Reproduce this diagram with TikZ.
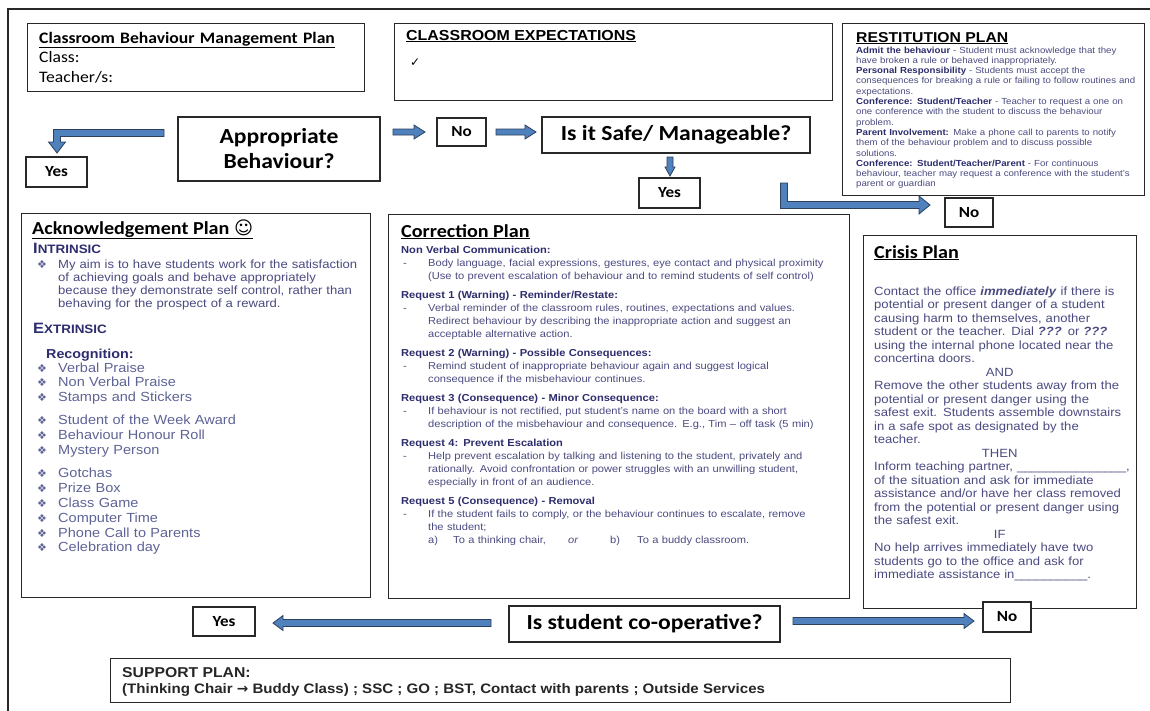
\documentclass[tikz,border=0pt]{standalone}
\usepackage{fontspec}
\setmainfont{Liberation Sans}[FakeStretch=1.1]
\newfontfamily\calfont{Carlito}[FakeStretch=1.1]
\newfontfamily\symfont{DejaVu Sans}
\usetikzlibrary{calc,positioning}

\definecolor{arrowblue}{RGB}{79,129,189}
\definecolor{arrowline}{RGB}{45,65,95}
\definecolor{navyb}{RGB}{45,45,110}
\definecolor{navyr}{RGB}{75,75,130}
\definecolor{listc}{RGB}{95,100,150}
\definecolor{boxline}{RGB}{40,40,40}

\newcommand{\fs}[2]{\fontsize{#1}{#2}\selectfont}
\newcommand{\hl}[1]{\textcolor{navyb}{\textbf{#1}}}
\newcommand{\dd}{\makebox[27pt][l]{\hspace{2pt}-}}
\newcommand{\ind}{\hspace*{27pt}}
\newcommand{\bul}{\makebox[21pt][l]{\symfont\fs{11}{12}❖}}
% block arrow: from, to, half shaft, half head, head length
\newcommand{\blockarrow}[5]{%
  \path ($(#2)!#5!(#1)$) coordinate (hb);
  \filldraw[blockarrow] ($(#1)!#3!90:(#2)$) -- ($(hb)!#3!90:(#2)$) -- ($(hb)!#4!90:(#2)$) -- (#2)
    -- ($(hb)!#4!-90:(#2)$) -- ($(hb)!#3!-90:(#2)$) -- ($(#1)!#3!-90:(#2)$) -- cycle;}

\tikzset{
  panel/.style={draw=boxline, line width=1.3pt, fill=white, rectangle, inner sep=0pt, anchor=north west},
  answer/.style={panel, anchor=center, font=\calfont\bfseries\fs{15.5}{17}},
  question/.style={panel, anchor=center, align=center, font=\calfont\bfseries\fs{21.5}{25}},
  txt/.style={inner sep=0pt, anchor=base west, align=left},
  blockarrow/.style={fill=arrowblue, draw=arrowline, line width=0.8pt, line join=miter},
  frame/.style={draw=boxline, line width=1.5pt},
}

\begin{document}
\begin{tikzpicture}[x=1pt,y=-1pt]
\useasboundingbox (0,0) rectangle (1150,710);
\fill[white] (0,0) rectangle (1150,710);
\clip (0,0) rectangle (1150,710);
\draw[frame] (8,9) rectangle (1170,730);

% top row
\node[panel, minimum width=337pt, minimum height=68pt] (title) at (27,23) {};
\node[txt, text width=330pt, font=\calfont\fs{16}{19.5}] (titletxt) at (39,43) {\textbf{\underline{Classroom Behaviour Management Plan}}\\ Class:\\ Teacher/s:};

\node[panel, minimum width=438pt, minimum height=77pt] (expect) at (394,23) {};
\node[txt] (exptitle) at (406,40) {\fs{14.5}{16}\bfseries\underline{CLASSROOM EXPECTATIONS}};
\node[txt] (tick) at (410,66) {\symfont\fs{12}{13}✓};

\node[panel, minimum width=302pt, minimum height=172pt] (restit) at (842,23) {};
\node[txt] (restitle) at (856,42) {\fs{14.3}{16}\bfseries\underline{RESTITUTION PLAN}};
\node[txt, text width=330pt, font=\fs{8.8}{10.3}, text=navyr] (restxt) at (856,53) {\hl{Admit the behaviour} - Student must acknowledge that they\\
have broken a rule or behaved inappropriately.\\
\hl{Personal Responsibility} - Students must accept the\\
consequences for breaking a rule or failing to follow routines and\\
expectations.\\
\hl{Conference: Student/Teacher} - Teacher to request a one on\\
one conference with the student to discuss the behaviour\\
problem.\\
\hl{Parent Involvement:} Make a phone call to parents to notify\\
them of the behaviour problem and to discuss possible\\
solutions.\\
\hl{Conference: Student/Teacher/Parent} - For continuous\\
behaviour, teacher may request a conference with the student's\\
parent or guardian};

% decision row
\node[question, minimum width=202pt, minimum height=64pt] (appr) at (279,149) {Appropriate\\ Behaviour?};
\node[answer, minimum width=49pt, minimum height=28pt] (no1) at (461.5,132) {No};
\node[question, minimum width=268pt, minimum height=36pt] (safe) at (676,135) {Is it Safe/ Manageable?};
\node[answer, minimum width=61pt, minimum height=30pt] (yes2) at (669.5,193) {Yes};
\node[answer, minimum width=61pt, minimum height=30pt] (yes1) at (56.5,172) {Yes};
\node[answer, minimum width=48pt, minimum height=29pt] (no2) at (969,212.5) {No};

\coordinate (a2s) at (393,132);
\coordinate (a2e) at (425,132);
\coordinate (a3s) at (496,132);
\coordinate (a3e) at (536,132);
\coordinate (a4s) at (670,157);
\coordinate (a4e) at (670,176);
\blockarrow{a2s}{a2e}{3pt}{7pt}{11pt}
\blockarrow{a3s}{a3e}{3pt}{7pt}{11pt}
\blockarrow{a4s}{a4e}{3pt}{5pt}{9pt}
% bent arrows
\filldraw[blockarrow] (164,129.5) -- (53.5,129.5) -- (53.5,142) -- (48.5,142) -- (57,153)
  -- (65.5,142) -- (60.5,142) -- (60.5,136.5) -- (164,136.5) -- cycle;
\filldraw[blockarrow] (780.5,183) -- (787.5,183) -- (787.5,201.5) -- (919,201.5) -- (919,196)
  -- (930,205) -- (919,214) -- (919,208.5) -- (780.5,208.5) -- cycle;

% plans
\node[panel, minimum width=349pt, minimum height=384pt] (ack) at (21,213) {};
\node[txt] (acktitle) at (32,234) {\calfont\fs{18.3}{20}\bfseries\underline{Acknowledgement Plan {\symfont\mdseries ☺}}};
\node[txt, text=navyb] (intr) at (33,253) {\bfseries\fs{15}{16}I\fs{12.2}{13}NTRINSIC};
\node[txt, text=listc] (b0) at (37,268) {\symfont\fs{11}{12}❖};
\node[txt, text width=320pt, font=\fs{11.9}{13.3}, text=navyr] (intrtxt) at (58,268) {My aim is to have students work for the satisfaction\\
of achieving goals and behave appropriately\\
because they demonstrate self control, rather than\\
behaving for the prospect of a reward.};
\node[txt, text=navyb] (extr) at (33,333) {\bfseries\fs{15}{16}E\fs{12.2}{13}XTRINSIC};
\node[txt, text=navyb] (recog) at (46,358) {\bfseries\fs{13}{14}Recognition:};
\node[txt, text width=320pt, font=\fs{13.2}{14.8}, text=listc] (reclist) at (37,372) {\bul Verbal Praise\\
\bul Non Verbal Praise\\
\bul Stamps and Stickers\\[8pt]
\bul Student of the Week Award\\
\bul Behaviour Honour Roll\\
\bul Mystery Person\\[9pt]
\bul Gotchas\\
\bul Prize Box\\
\bul Class Game\\
\bul Computer Time\\
\bul Phone Call to Parents\\
\bul Celebration day};

\node[panel, minimum width=461pt, minimum height=384pt] (corr) at (388,214) {};
\node[txt] (corrtitle) at (401,237) {\calfont\fs{18.3}{20}\bfseries\underline{Correction Plan}};
\node[txt, text width=470pt, font=\fs{10.1}{13}, text=navyr] (corrtxt) at (401,253) {\hl{Non Verbal Communication:}\\
\dd Body language, facial expressions, gestures, eye contact and physical proximity\\
\ind (Use to prevent escalation of behaviour and to remind students of self control)\\[6pt]
\hl{Request 1 (Warning) - Reminder/Restate:}\\
\dd Verbal reminder of the classroom rules, routines, expectations and values.\\
\ind Redirect behaviour by describing the inappropriate action and suggest an\\
\ind acceptable alternative action.\\[6pt]
\hl{Request 2 (Warning) - Possible Consequences:}\\
\dd Remind student of inappropriate behaviour again and suggest logical\\
\ind consequence if the misbehaviour continues.\\[6pt]
\hl{Request 3 (Consequence) - Minor Consequence:}\\
\dd If behaviour is not rectified, put student's name on the board with a short\\
\ind description of the misbehaviour and consequence. E.g., Tim – off task (5 min)\\[6pt]
\hl{Request 4: Prevent Escalation}\\
\dd Help prevent escalation by talking and listening to the student, privately and\\
\ind rationally. Avoid confrontation or power struggles with an unwilling student,\\
\ind especially in front of an audience.\\[6pt]
\hl{Request 5 (Consequence) - Removal}\\
\dd If the student fails to comply, or the behaviour continues to escalate, remove\\
\ind the student;\\
\ind\makebox[25pt][l]{a)}\makebox[115pt][l]{To a thinking chair,}\makebox[42pt][l]{\textit{or}}\makebox[27pt][l]{b)}To a buddy classroom.};

\node[panel, minimum width=273pt, minimum height=373pt] (crisis) at (863,235) {};
\node[txt] (crisistitle) at (874,258) {\calfont\fs{18.3}{20}\bfseries\underline{Crisis Plan}};
\node[txt, text width=280pt, font=\fs{11.9}{13.5}, text=navyr] (crisistxt) at (874,295) {Contact the office \textbf{\textit{immediately}} if there is\\
potential or present danger of a student\\
causing harm to themselves, another\\
student or the teacher. Dial \textbf{\textit{???}} or \textbf{\textit{???}}\\
using the internal phone located near the\\
concertina doors.\\
\makebox[251pt]{AND}\\
Remove the other students away from the\\
potential or present danger using the\\
safest exit. Students assemble downstairs\\
in a safe spot as designated by the\\
teacher.\\
\makebox[251pt]{THEN}\\
Inform teaching partner, \_\_\_\_\_\_\_\_\_\_\_\_\_\_\_,\\
of the situation and ask for immediate\\
assistance and/or have her class removed\\
from the potential or present danger using\\
the safest exit.\\
\makebox[251pt]{IF}\\
No help arrives immediately have two\\
students go to the office and ask for\\
immediate assistance in\_\_\_\_\_\_\_\_\_\_.};

% co-operation row
\node[answer, minimum width=62pt, minimum height=29pt] (yes3) at (224,621.5) {Yes};
\node[question, minimum width=271pt, minimum height=36pt] (coop) at (644.5,624) {Is student co-operative?};
\node[answer, minimum width=48pt, minimum height=30pt] (no3) at (1007,617) {No};
\coordinate (a6s) at (491,623);
\coordinate (a6e) at (273,623);
\coordinate (a7s) at (793,621);
\coordinate (a7e) at (974,621);
\blockarrow{a6s}{a6e}{3.5pt}{7.5pt}{10pt}
\blockarrow{a7s}{a7e}{3.5pt}{7.5pt}{10pt}

\node[panel, minimum width=900pt, minimum height=44pt] (support) at (110,658) {};
\node[txt, font=\bfseries\fs{14.3}{16}, text=black!85] (supphead) at (122,677) {SUPPORT PLAN:};
\node[txt, font=\bfseries\fs{13.7}{16}, text=black!85] (supptxt) at (122,693) {(Thinking Chair {\symfont →} Buddy Class) ; SSC ; GO ; BST, Contact with parents ; Outside Services};
\end{tikzpicture}
\end{document}
